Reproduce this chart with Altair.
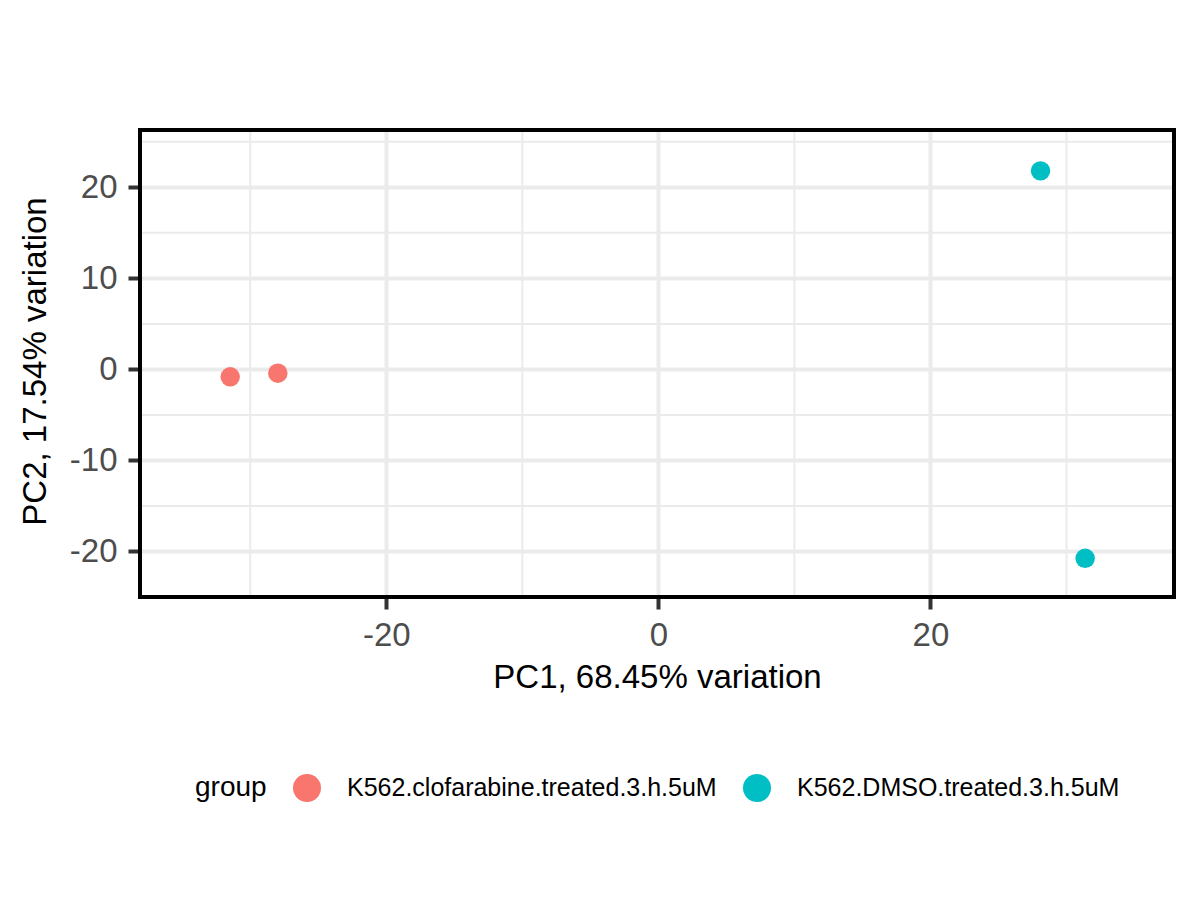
import altair as alt
import pandas as pd

# ---- data ----
pc1 = [-31.47, -27.97, 28.09, 31.37]
pc2 = [-0.81, -0.41, 21.81, -20.75]
group = ["K562.clofarabine.treated.3.h.5uM", "K562.clofarabine.treated.3.h.5uM",
         "K562.DMSO.treated.3.h.5uM", "K562.DMSO.treated.3.h.5uM"]
group_names = ["K562.clofarabine.treated.3.h.5uM", "K562.DMSO.treated.3.h.5uM"]
group_colors = ["#F8766D", "#00BFC4"]

x_major = [-20, 0, 20]
x_minor = [-30, -10, 10, 30]
y_major = [-20, -10, 0, 10, 20]
y_minor = [-25, -15, -5, 5, 15, 25]
x_domain = [-38.1, 37.9]
y_domain = [-25.0, 26.3]

x_title = "PC1, 68.45% variation"
y_title = "PC2, 17.54% variation"

pts = pd.DataFrame({"PC1": pc1, "PC2": pc2, "group": group})
vminor = pd.DataFrame({"PC1": x_minor})
hminor = pd.DataFrame({"PC2": y_minor})

FONT = "Liberation Sans"

xscale = alt.Scale(domain=x_domain, nice=False, zero=False)
yscale = alt.Scale(domain=y_domain, nice=False, zero=False)

xaxis = alt.Axis(values=x_major, title=x_title, grid=True, domain=False,
                 labelExpr="'' + datum.value",
                 tickSize=12, tickWidth=4, tickColor="#333333",
                 labelFontSize=33, labelColor="#4D4D4D", labelFont=FONT,
                 labelPadding=10, titleFontSize=33, titleFont=FONT,
                 titleFontWeight="normal", titleColor="#000000",
                 titleBaseline="alphabetic", titleY=90,
                 gridColor="#EBEBEB", gridWidth=4)
yaxis = alt.Axis(values=y_major, title=y_title, grid=True, domain=False,
                 labelExpr="'' + datum.value",
                 tickSize=12, tickWidth=4, tickColor="#333333",
                 labelFontSize=33, labelColor="#4D4D4D", labelFont=FONT,
                 labelPadding=11, titleFontSize=33, titleFont=FONT,
                 titleFontWeight="normal", titleColor="#000000",
                 titleBaseline="alphabetic", titleX=-95, titleY=231,
                 titleAngle=-90, titleAlign="center",
                 gridColor="#EBEBEB", gridWidth=4)

vrules = alt.Chart(vminor).mark_rule(color="#EBEBEB", strokeWidth=2).encode(
    x=alt.X("PC1:Q", scale=xscale, axis=xaxis)
)
hrules = alt.Chart(hminor).mark_rule(color="#EBEBEB", strokeWidth=2).encode(
    y=alt.Y("PC2:Q", scale=yscale, axis=yaxis)
)

points = alt.Chart(pts).mark_circle(size=380, opacity=1).encode(
    x=alt.X("PC1:Q", scale=xscale, axis=xaxis),
    y=alt.Y("PC2:Q", scale=yscale, axis=yaxis),
    color=alt.Color("group:N",
                    scale=alt.Scale(domain=group_names, range=group_colors),
                    legend=alt.Legend(
                        title="group", orient="none", direction="horizontal",
                        legendX=55, legendY=644, titleOrient="left",
                        titleFontSize=28, titleFont=FONT, titleFontWeight="normal",
                        titleColor="#000000", titlePadding=26,
                        titleBaseline="middle", titleAnchor="middle",
                        labelFontSize=25, labelFont=FONT, labelColor="#000000",
                        labelLimit=0, labelOffset=26, columnPadding=26,
                        symbolType="circle", symbolSize=784,
                        symbolStrokeWidth=0, symbolOpacity=1, padding=0)),
)

# panel border drawn on top of the grid
border = alt.Chart(pd.DataFrame({"b": [0]})).mark_rect(
    fillOpacity=0, stroke="#000000", strokeWidth=4
).encode(
    x=alt.value(0), x2=alt.value("width"), y=alt.value(0), y2=alt.value("height")
)

chart = alt.layer(vrules, hrules, points, border).properties(
    width=1034, height=467,
    autosize=alt.AutoSizeParams(type="none"),
    padding={"left": 132, "top": 122, "right": 18, "bottom": 280},
    background="#FFFFFF",
).configure_view(
    strokeWidth=0
)

chart.save("out.html", embed_options={"renderer": "svg", "actions": False})
